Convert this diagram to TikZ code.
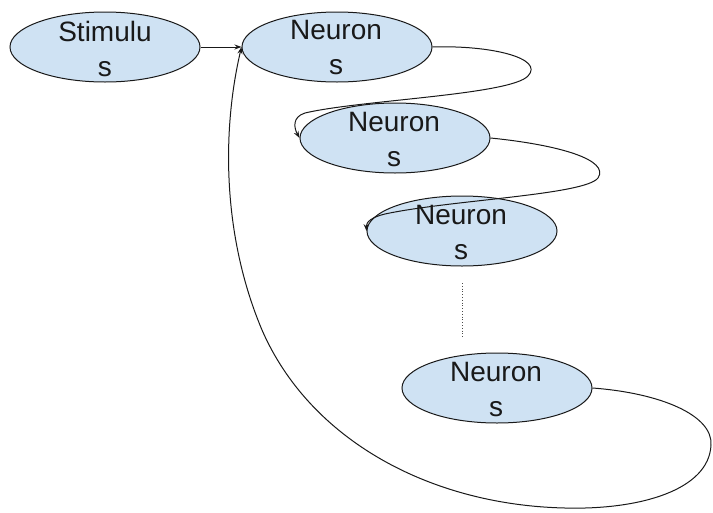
\documentclass[tikz,border=0pt]{standalone}
\usepackage{fontspec}
\setmainfont{Liberation Sans}
\usetikzlibrary{shapes.geometric,arrows.meta}
\definecolor{fillblue}{HTML}{CFE2F3}
\begin{document}
\begin{tikzpicture}[x=1pt,y=-1pt,
 oval/.style={ellipse, draw=black!90, line width=1pt, fill=fillblue, minimum width=190pt, minimum height=70pt, inner sep=0pt},
 txt/.style={align=center, inner sep=0pt, font=\fontsize{28}{35}\selectfont, text=black!90},
 conn/.style={draw=black!90, line width=1pt, -{Stealth[length=7pt,width=5pt]}},
 dots/.style={draw=black!70, line width=0.8pt, dotted}]
\useasboundingbox (0,0) rectangle (713,512);
\node[oval] (s) at (105,47) {};
\node[txt] (st) at (105,49) {Stimulu\\s};
\node[oval] (n1) at (337,47) {};
\node[txt] (n1t) at (336,48) {Neuron\\s};
\node[oval] (n2) at (395,138) {};
\node[txt] (n2t) at (394,140) {Neuron\\s};
\node[oval] (n3) at (462,231) {};
\node[txt] (n3t) at (461,232) {Neuron\\s};
\node[oval] (n4) at (497,388) {};
\node[txt] (n4t) at (496,389) {Neuron\\s};
\coordinate (d1) at (462,283);
\coordinate (d2) at (462,338);
\draw[dots] (d1) -- (d2);
\draw[conn] (s.east) -- (n1.west);
\draw[conn] (n1.east) .. controls (490,45) and (545,58) .. (528,76) .. controls (510,95) and (360,100) .. (305,113) .. controls (292,117) and (294,128) .. (n2.west);
\draw[conn] (n2.east) .. controls (560,145) and (610,160) .. (598,178) .. controls (585,195) and (450,200) .. (385,214) .. controls (372,217) and (366,222) .. (n3.west);
\draw[conn] (n4.east) .. controls (660,393) and (713,415) .. (711,445) .. controls (709,490) and (640,510) .. (565,508) .. controls (430,505) and (310,440) .. (262,330) .. controls (222,235) and (222,130) .. (n1.west);
\end{tikzpicture}
\end{document}
